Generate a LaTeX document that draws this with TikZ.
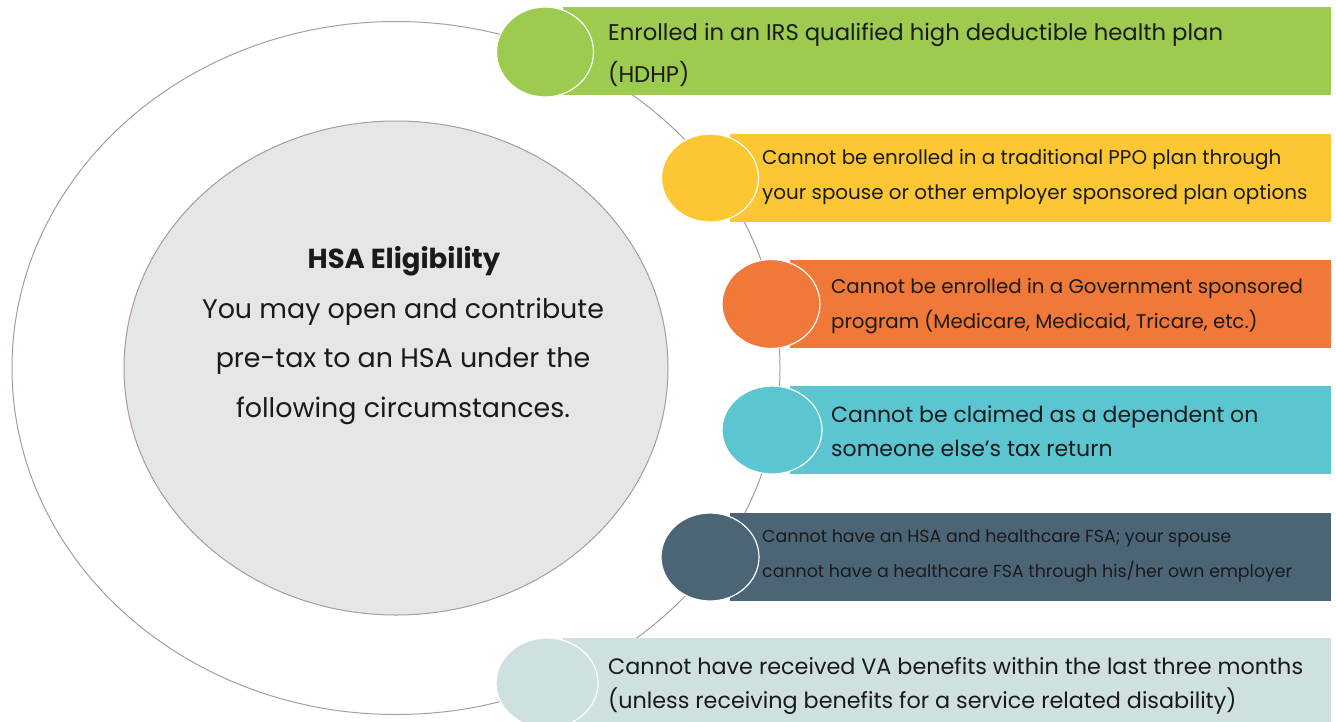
\documentclass[tikz,border=0pt]{standalone}
\usepackage{fontspec}
\setmainfont{Poppins}
\usetikzlibrary{shapes.geometric}

\definecolor{ringline}{HTML}{A99C9C}
\definecolor{hubgray}{HTML}{E5E6E6}
\definecolor{inkblack}{HTML}{1A1A1A}
\definecolor{hdhpgreen}{HTML}{9CCB4F}
\definecolor{ppoyellow}{HTML}{FCC733}
\definecolor{govorange}{HTML}{F07838}
\definecolor{depteal}{HTML}{5CC5D2}
\definecolor{fsaslate}{HTML}{4B6576}
\definecolor{vapale}{HTML}{CEE0E0}

\tikzset{
  ring/.style={ellipse, draw=ringline, line width=1pt, inner sep=0pt},
  bar/.style={rectangle, draw=none, inner sep=0pt, anchor=west, minimum height=88pt},
  dot/.style={ellipse, draw=white, line width=1.2pt, inner sep=0pt},
  label/.style={anchor=west, align=left, inner sep=0pt, text=inkblack},
}

\begin{document}
\begin{tikzpicture}[x=1pt, y=-1pt]
\useasboundingbox (0,0) rectangle (1336,721);
\fill[white] (0,0) rectangle (1336,721);

% outer ring and central hub
\node[ring, minimum width=768pt, minimum height=693pt] (outer) at (396,368) {};
\node[ring, fill=hubgray, minimum width=544pt, minimum height=494pt] (hub) at (396,368) {};
\node[align=center, text=inkblack, inner sep=0pt, font=\fontsize{27.5}{30}\selectfont\bfseries] (hubtitle) at (404,261)
  {HSA Eligibility};
\node[align=center, text=inkblack, inner sep=0pt, font=\fontsize{26.9}{49.5}\selectfont] (hubtext) at (403,361)
  {You may open and contribute\\pre-tax to an HSA under the\\following circumstances.};

% 1 - HDHP
\node[bar, fill=hdhpgreen, minimum width=768pt] (bar1) at (563,51) {};
\node[dot, fill=hdhpgreen, minimum width=97pt, minimum height=90pt] (dot1) at (545,52) {};
\node[label, font=\fontsize{22.7}{42}\selectfont] (txt1) at (608,55)
  {Enrolled in an IRS qualified high deductible health plan\\(HDHP)};

% 2 - PPO
\node[bar, fill=ppoyellow, minimum width=601pt] (bar2) at (730,177.5) {};
\node[dot, fill=ppoyellow, minimum width=97pt, minimum height=88pt] (dot2) at (710,178) {};
\node[label, font=\fontsize{19.9}{35}\selectfont] (txt2) at (762,177)
  {Cannot be enrolled in a traditional PPO plan through\\your spouse or other employer sponsored plan options};

% 3 - Government program
\node[bar, fill=govorange, minimum width=541pt] (bar3) at (790,303.5) {};
\node[dot, fill=govorange, minimum width=98pt, minimum height=89pt] (dot3) at (771,304) {};
\node[label, font=\fontsize{19.8}{35}\selectfont] (txt3) at (831,306)
  {Cannot be enrolled in a Government sponsored\\program (Medicare, Medicaid, Tricare, etc.)};

% 4 - Dependent
\node[bar, fill=depteal, minimum width=541pt] (bar4) at (790,429.5) {};
\node[dot, fill=depteal, minimum width=100pt, minimum height=88pt] (dot4) at (772,430) {};
\node[label, font=\fontsize{22}{34}\selectfont] (txt4) at (831,431)
  {Cannot be claimed as a dependent on\\someone else's tax return};

% 5 - FSA
\node[bar, fill=fsaslate, minimum width=601pt] (bar5) at (730,556.5) {};
\node[dot, fill=fsaslate, minimum width=98pt, minimum height=88pt] (dot5) at (710,557) {};
\node[label, font=\fontsize{17.4}{35}\selectfont] (txt5) at (762,556)
  {Cannot have an HSA and healthcare FSA; your spouse\\cannot have a healthcare FSA through his/her own employer};

% 6 - VA benefits
\node[bar, fill=vapale, minimum width=768pt] (bar6) at (563,682) {};
\node[dot, fill=vapale, minimum width=102pt, minimum height=90pt] (dot6) at (547,683) {};
\node[label, font=\fontsize{22.3}{34}\selectfont] (txt6) at (608,686)
  {Cannot have received VA benefits within the last three months\\(unless receiving benefits for a service related disability)};
\end{tikzpicture}
\end{document}
